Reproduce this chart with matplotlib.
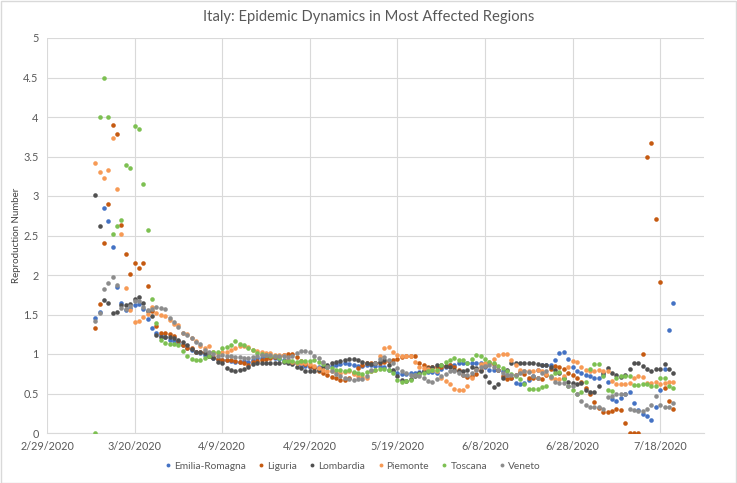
import numpy as np
import pandas as pd
import matplotlib
matplotlib.use("Agg")
import matplotlib.pyplot as plt
from matplotlib.lines import Line2D
from matplotlib.patches import Rectangle

plt.rcParams["font.family"] = ["Lato", "DejaVu Sans"]

# daily values starting 3/11/2020
start_date = "2020-03-11"

emilia_romagna = [
    1.45, 1.53, 2.85, 2.68, 2.36, 1.85, 1.65, 1.56, 1.58, 1.62, 1.63, 1.57, 1.44, 1.33,
    1.26, 1.24, 1.21, 1.18, 1.17, 1.14, 1.12, 1.08, 1.05, 1.03, 1.01, 0.99,
    0.97, 0.95, 0.94, 0.93, 0.92, 0.91, 0.90, 0.90, 0.91, 0.90, 0.92, 0.95, 0.95, 0.96,
    0.96, 0.95, 0.94, 0.93, 0.92, 0.90, 0.88, 0.86, 0.85, 0.84, 0.84,
    0.84, 0.83, 0.84, 0.85, 0.86, 0.87, 0.88, 0.87, 0.86, 0.85, 0.85, 0.86, 0.86, 0.85,
    0.85, 0.83, 0.80, 0.78, 0.76, 0.75, 0.75, 0.76, 0.76, 0.77, 0.78, 0.77, 0.77, 0.76,
    0.81, 0.84, 0.86, 0.86, 0.88, 0.88, 0.89, 0.89, 0.89, 0.88, 0.84, 0.80, 0.80, 0.80,
    0.78, 0.74, 0.69, 0.63, 0.62, 0.63, 0.67, 0.72, 0.80,
    0.86, 0.86, 0.86, 0.92, 1.01, 1.03, 0.94, 0.84, 0.78, 0.76, 0.74, 0.72, 0.70, 0.70,
    0.73, 0.65, 0.43, 0.41, 0.44, 0.50, 0.52, 0.38, 0.29, 0.24, 0.21, 0.16, 0.33, 0.54,
    0.81, 1.30, 1.64,
]
liguria = [
    1.33, 1.63, 2.40, 2.90, 3.90, 3.79, 2.63, 2.27, 2.01, 2.15, 2.09, 2.15, 1.86, 1.54,
    1.35, 1.27, 1.27, 1.25, 1.23, 1.16, 1.11, 1.07, 1.07, 1.03, 1.02, 1.02,
    0.97, 0.96, 0.94, 0.93, 0.93, 0.92, 0.91, 0.90, 0.88, 0.86, 0.90, 0.91, 0.93, 0.94,
    0.95, 0.96, 0.97, 0.99, 1.00, 1.00, 0.96, 0.91, 0.87, 0.85, 0.82,
    0.78, 0.76, 0.73, 0.71, 0.69, 0.67, 0.67, 0.70, 0.76, 0.82, 0.86, 0.88, 0.89, 0.89,
    0.89, 0.90, 0.91, 0.93, 0.94, 0.96, 0.97, 0.97, 0.97, 0.88, 0.86, 0.83, 0.83, 0.84,
    0.84, 0.85, 0.86, 0.84, 0.80, 0.74, 0.71, 0.72, 0.75, 0.80, 0.85, 0.88, 0.87, 0.80,
    0.72, 0.68, 0.69, 0.74, 0.77, 0.75, 0.70, 0.69, 0.70,
    0.68, 0.74, 0.81, 0.85, 0.84, 0.81, 0.76, 0.73, 0.69, 0.64, 0.57, 0.50, 0.39, 0.32,
    0.27, 0.26, 0.28, 0.30, 0.29, 0.13, 0.0, 0.0, 0.0, 1.00, 3.50, 3.67, 2.71, 1.91,
    0.57, 0.40, 0.30,
]
lombardia = [
    3.01, 2.62, 1.68, 1.64, 1.52, 1.53, 1.62, 1.62, 1.63, 1.70, 1.72, 1.64, 1.54, 1.48,
    1.24, 1.21, 1.21, 1.21, 1.20, 1.18, 1.15, 1.12, 1.06, 1.03, 1.03, 1.01,
    0.98, 0.95, 0.90, 0.88, 0.82, 0.80, 0.79, 0.80, 0.81, 0.84, 0.87, 0.88, 0.88, 0.88,
    0.88, 0.88, 0.89, 0.90, 0.89, 0.87, 0.84, 0.82, 0.78, 0.78, 0.78,
    0.80, 0.83, 0.86, 0.88, 0.90, 0.91, 0.92, 0.94, 0.94, 0.92, 0.90, 0.88, 0.87, 0.88,
    0.90, 0.92, 0.86, 0.80, 0.72, 0.67, 0.66, 0.68, 0.72, 0.76, 0.79, 0.82, 0.84, 0.86,
    0.86, 0.85, 0.83, 0.80, 0.78, 0.78, 0.80, 0.83, 0.82, 0.78, 0.72, 0.64, 0.58, 0.62,
    0.70, 0.80, 0.88, 0.89, 0.88, 0.88, 0.89, 0.88, 0.87,
    0.86, 0.86, 0.84, 0.80, 0.76, 0.70, 0.65, 0.63, 0.62, 0.63, 0.54, 0.52, 0.52, 0.59,
    0.76, 0.82, 0.76, 0.73, 0.71, 0.74, 0.81, 0.89, 0.88, 0.85, 0.81, 0.79, 0.81, 0.81,
    0.87, 0.81, 0.76,
]
piemonte = [
    3.42, 3.30, 3.23, 3.33, 3.73, 3.09, 2.52, 1.84, 1.56, 1.41, 1.42, 1.47, 1.51, 1.60,
    1.52, 1.50, 1.48, 1.43, 1.38, 1.37, 1.27, 1.25, 1.20, 1.16, 1.10, 1.08,
    1.10, 1.03, 1.01, 1.02, 1.03, 1.05, 1.07, 1.10, 1.10, 1.09, 1.05, 1.04, 1.02, 1.01,
    1.01, 0.99, 0.99, 0.99, 0.93, 0.90, 0.89, 0.89, 0.88, 0.87, 0.85,
    0.82, 0.80, 0.79, 0.78, 0.77, 0.76, 0.77, 0.78, 0.75, 0.72, 0.71, 0.69, 0.78, 0.80,
    0.97, 1.07, 1.09, 1.03, 0.99, 0.98, 0.98, 0.98, 0.90, 0.84, 0.82, 0.81, 0.80, 0.78,
    0.70, 0.66, 0.62, 0.56, 0.54, 0.54, 0.60, 0.70, 0.80, 0.87, 0.88, 0.90, 0.94, 0.99,
    1.00, 1.00, 0.92, 0.86, 0.80, 0.78, 0.79, 0.78, 0.80,
    0.78, 0.75, 0.70, 0.68, 0.68, 0.72, 0.84, 0.91, 0.90, 0.84, 0.80, 0.78, 0.79, 0.80,
    0.79, 0.78, 0.66, 0.62, 0.62, 0.62, 0.63, 0.69, 0.72, 0.71, 0.63, 0.63, 0.64, 0.62,
    0.63, 0.64, 0.65,
]
toscana = [
    0.00, 4.00, 4.50, 4.00, 2.52, 2.62, 2.70, 3.39, 3.36, 3.89, 3.85, 3.15, 2.57, 1.70,
    1.39, 1.18, 1.14, 1.13, 1.13, 1.12, 1.04, 0.97, 0.94, 0.92, 0.93, 0.95,
    0.97, 1.03, 1.03, 1.07, 1.09, 1.12, 1.16, 1.13, 1.11, 1.08, 1.05, 1.01, 1.00, 0.99,
    0.98, 0.97, 0.95, 0.91, 0.91, 0.91, 0.90, 0.91, 0.91, 0.91, 0.92,
    0.90, 0.87, 0.84, 0.82, 0.80, 0.80, 0.79, 0.80, 0.77, 0.76, 0.75, 0.77, 0.79, 0.80,
    0.81, 0.81, 0.80, 0.76, 0.67, 0.65, 0.66, 0.67, 0.73, 0.75, 0.76, 0.78, 0.80, 0.80,
    0.86, 0.90, 0.93, 0.95, 0.93, 0.92, 0.89, 0.94, 0.99, 0.98, 0.94, 0.90, 0.88, 0.85,
    0.82, 0.78, 0.75, 0.72, 0.68, 0.62, 0.56, 0.56, 0.56,
    0.58, 0.60, 0.72, 0.76, 0.77, 0.68, 0.59, 0.54, 0.50, 0.52, 0.65, 0.81, 0.87, 0.87,
    0.72, 0.54, 0.53, 0.70, 0.72, 0.72, 0.72, 0.61, 0.61, 0.62, 0.62, 0.60, 0.60, 0.69,
    0.69, 0.60, 0.57,
]
veneto = [
    1.42, 1.52, 1.82, 1.90, 1.97, 1.87, 1.58, 1.57, 1.61, 1.67, 1.67, 1.60, 1.56, 1.57,
    1.60, 1.58, 1.57, 1.46, 1.40, 1.34, 1.26, 1.24, 1.20, 1.15, 1.13, 1.05,
    1.02, 1.00, 0.98, 0.99, 0.98, 0.97, 0.96, 0.96, 0.95, 0.95, 0.96, 0.97, 0.99, 0.99,
    0.99, 0.98, 0.97, 0.97, 0.96, 0.98, 1.01, 1.04, 1.04, 1.02, 0.98,
    0.95, 0.90, 0.84, 0.79, 0.75, 0.72, 0.70, 0.68, 0.67, 0.68, 0.68, 0.72, 0.80, 0.88,
    0.94, 0.96, 0.93, 0.88, 0.82, 0.78, 0.76, 0.74, 0.74, 0.72, 0.70, 0.66, 0.65, 0.68,
    0.72, 0.75, 0.78, 0.78, 0.76, 0.74, 0.73, 0.76, 0.80, 0.83, 0.85, 0.86, 0.84, 0.80,
    0.76, 0.74, 0.73, 0.74, 0.76, 0.78, 0.77, 0.72, 0.70,
    0.76, 0.78, 0.71, 0.65, 0.63, 0.63, 0.59, 0.59, 0.50, 0.40, 0.36, 0.33, 0.33, 0.33,
    0.30, 0.46, 0.47, 0.49, 0.49, 0.50, 0.31, 0.29, 0.28, 0.28, 0.31, 0.36, 0.47, 0.36,
    0.33, 0.33, 0.38,
]

series = {
    "Emilia-Romagna": (emilia_romagna, "#4472C4"),
    "Liguria": (liguria, "#C55A11"),
    "Lombardia": (lombardia, "#505050"),
    "Piemonte": (piemonte, "#F79A55"),
    "Toscana": (toscana, "#7DC052"),
    "Veneto": (veneto, "#8C8C8C"),
}

tick_dates = pd.date_range("2020-02-29", periods=8, freq="20D")
y_ticks = np.arange(0, 5.01, 0.5)

fig = plt.figure(figsize=(7.37, 4.83), dpi=100)
ax = fig.add_axes([47 / 737, 1 - 433 / 483, (704 - 47) / 737, (433 - 38) / 483])

for name, (vals, color) in series.items():
    dates = pd.date_range(start_date, periods=len(vals), freq="D")
    ax.plot(dates, vals, linestyle="none", marker="o", markersize=3.3,
            markeredgewidth=0, color=color, label=name, zorder=3)

ax.set_xlim(pd.Timestamp("2020-02-29"), pd.Timestamp("2020-07-28"))
ax.set_ylim(0, 5)
ax.set_xticks(tick_dates)
ax.set_xticklabels([f"{d.month}/{d.day}/{d.year}" for d in tick_dates])
ax.set_yticks(y_ticks)
ax.set_yticklabels([f"{v:g}" for v in y_ticks])
ax.grid(True, color="#D9D9D9", linewidth=0.8, zorder=0)
ax.set_axisbelow(True)
for side in ["top", "right", "left"]:
    ax.spines[side].set_visible(False)
ax.spines["bottom"].set_color("#D9D9D9")
ax.tick_params(length=0, labelsize=7.8, colors="#595959", pad=6)

ax.set_ylabel("Reproduction Number", fontsize=7, color="#404040", labelpad=2)
fig.text(0.5, 1 - 17 / 483, "Italy: Epidemic Dynamics in Most Affected Regions",
         ha="center", va="center", fontsize=10.6, color="#595959")

handles = [Line2D([], [], linestyle="none", marker="o", markersize=2.8,
                  markeredgewidth=0, color=c) for _, (v, c) in series.items()]
fig.legend(handles, list(series.keys()), loc="center", ncol=6,
           bbox_to_anchor=(353 / 737, 1 - 466 / 483), frameon=False,
           fontsize=7.3, labelcolor="#595959", handletextpad=0.3,
           columnspacing=1.2, handlelength=0.6)

fig.add_artist(Rectangle((0.001, 0.001), 0.997, 0.997, transform=fig.transFigure,
                         fill=False, edgecolor="#D9D9D9", linewidth=1))

fig.savefig("out.png", dpi=100)
